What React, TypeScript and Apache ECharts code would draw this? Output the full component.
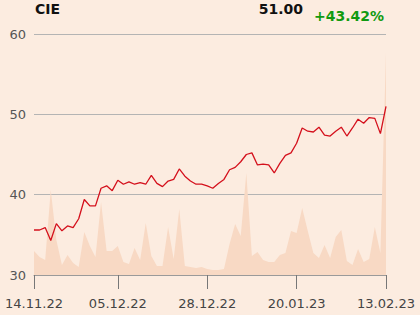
import React, { useEffect, useRef } from "react";
import * as echarts from "echarts";

const categories = [
  "14.11.22","15.11.22","16.11.22","17.11.22","18.11.22","21.11.22","22.11.22","23.11.22","24.11.22","25.11.22",
  "28.11.22","29.11.22","30.11.22","01.12.22","02.12.22","05.12.22","06.12.22","07.12.22","08.12.22","09.12.22",
  "12.12.22","13.12.22","14.12.22","15.12.22","16.12.22","19.12.22","20.12.22","21.12.22","22.12.22","23.12.22",
  "27.12.22","28.12.22","29.12.22","30.12.22","03.01.23","04.01.23","05.01.23","06.01.23","09.01.23","10.01.23",
  "11.01.23","12.01.23","13.01.23","16.01.23","17.01.23","18.01.23","19.01.23","20.01.23","23.01.23","24.01.23",
  "25.01.23","26.01.23","27.01.23","30.01.23","31.01.23","01.02.23","02.02.23","03.02.23","06.02.23","07.02.23",
  "08.02.23","09.02.23","10.02.23","13.02.23"
];

const prices = [
  35.6, 35.6, 35.9, 34.3, 36.4, 35.5, 36.1, 35.9, 37.0, 39.4,
  38.6, 38.6, 40.8, 41.1, 40.5, 41.8, 41.3, 41.6, 41.3, 41.5,
  41.3, 42.4, 41.4, 41.0, 41.7, 41.9, 43.2, 42.3, 41.7, 41.3,
  41.3, 41.1, 40.8, 41.4, 41.9, 43.1, 43.4, 44.1, 45.0, 45.2,
  43.7, 43.8, 43.7, 42.7, 43.9, 44.9, 45.2, 46.4, 48.3, 47.9,
  47.8, 48.4, 47.4, 47.3, 47.9, 48.4, 47.3, 48.3, 49.4, 48.9,
  49.6, 49.5, 47.6, 51.0
];

const volumes = [
  24, 18, 15, 85, 35, 10, 20, 12, 8, 43,
  29, 18, 73, 24, 24, 29, 13, 11, 27, 15,
  52, 19, 9, 9, 48, 16, 66, 9, 8, 7,
  8, 6, 5, 5, 6, 31, 51, 39, 102, 19,
  23, 15, 13, 13, 20, 22, 44, 42, 67, 44,
  22, 17, 30, 17, 38, 45, 14, 10, 26, 13,
  16, 48, 22, 223
];

const tickLabels = ["14.11.22", "05.12.22", "28.12.22", "20.01.23", "13.02.23"];
const yTicks = [30, 40, 50, 60];

const titleName = "CIE";
const lastPrice = "51.00";
const change = "+43.42%";

export default function App() {
  const ref = useRef<HTMLDivElement>(null);
  useEffect(() => {
    if (!ref.current) return;
    const chart = echarts.init(ref.current, null, { renderer: "svg" });
    const font = "DejaVu Sans";
    chart.setOption({
      animation: false,
      backgroundColor: "#fcece0",
      textStyle: { fontFamily: font },
      grid: { left: 34, right: 34, top: 34, bottom: 40 },
      graphic: [
        { type: "text", left: 35, top: 2, style: { text: titleName, font: `bold 14px "${font}"`, fill: "#111" } },
        { type: "text", right: 117, top: 2, style: { text: lastPrice, font: `bold 14px "${font}"`, fill: "#111" } },
        { type: "text", right: 36, top: 9, style: { text: change, font: `bold 14px "${font}"`, fill: "#109a10" } }
      ],
      xAxis: {
        type: "category",
        data: categories,
        boundaryGap: false,
        axisLine: { lineStyle: { color: "#9a9a9a", width: 1 } },
        axisTick: {
          length: 14,
          lineStyle: { color: "#777" },
          interval: (i: number, v: string) => tickLabels.includes(categories[i])
        },
        axisLabel: {
          color: "#444",
          fontSize: 13,
          fontFamily: font,
          margin: 22,
          interval: (i: number, v: string) => tickLabels.includes(categories[i])
        },
        splitLine: { show: false }
      },
      yAxis: [
        {
          type: "value",
          min: yTicks[0],
          max: yTicks[yTicks.length - 1],
          interval: 10,
          position: "left",
          axisLine: { show: false },
          axisTick: { show: false },
          axisLabel: { color: "#555", fontSize: 13, fontFamily: font, margin: 8 },
          splitLine: { lineStyle: { color: "#b4b4b4", width: 1 } }
        },
        { type: "value", min: 0, max: 241, show: false, splitLine: { show: false } }
      ],
      series: [
        {
          type: "line",
          yAxisIndex: 1,
          data: volumes,
          symbol: "none",
          lineStyle: { width: 0 },
          areaStyle: { color: "#f8d9c4", opacity: 1 },
          z: 1
        },
        {
          type: "line",
          data: prices,
          symbol: "none",
          lineStyle: { color: "#d4101c", width: 1.3 },
          z: 3
        }
      ]
    });
    return () => chart.dispose();
  }, []);
  return <div ref={ref} style={{ position: "fixed", left: 0, top: 0, width: 420, height: 315 }} />;
}
